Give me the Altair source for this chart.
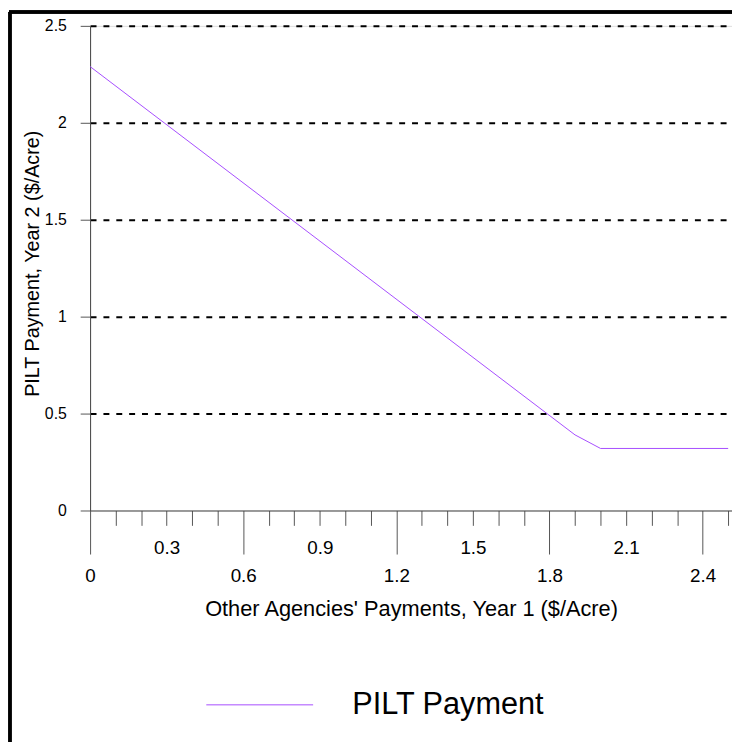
import altair as alt
import pandas as pd

# ---- data ----
x_other = [0.0, 1.9, 2.0, 2.5]          # Other Agencies' Payments, Year 1 ($/Acre)
y_pilt = [2.29, 0.39, 0.32, 0.32]       # PILT Payment, Year 2 ($/Acre)
series_name = "PILT Payment"
x_ticks = [0.0, 0.1, 0.2, 0.3, 0.4, 0.5, 0.6, 0.7, 0.8, 0.9, 1.0, 1.1, 1.2,
           1.3, 1.4, 1.5, 1.6, 1.7, 1.8, 1.9, 2.0, 2.1, 2.2, 2.3, 2.4, 2.5]
y_ticks = [0.0, 0.5, 1.0, 1.5, 2.0, 2.5]
x_title = "Other Agencies' Payments, Year 1 ($/Acre)"
y_title = "PILT Payment, Year 2 ($/Acre)"
line_color = "#a64dff"

df = pd.DataFrame({"x": x_other, "y": y_pilt, "series": [series_name] * len(x_other)})

FONT = "Liberation Sans"

x_axis = alt.Axis(
    values=x_ticks,
    format="~g",
    title=x_title,
    titleFont=FONT, titleFontSize=22, titleFontWeight="normal", titleColor="black",
    titleBaseline="middle", titleY=99,
    labelExpr="round(datum.value*10) % 3 == 0 ? datum.label : ''",
    labelFont=FONT, labelFontSize=19, labelColor="black",
    labelPadding=13, labelFlush=False, labelOverlap=False,
    tickSize={"condition": {"test": "round(datum.value*10) % 6 == 0", "value": 44}, "value": 15},
    tickColor="#555", domainColor="#444", domainWidth=1,
    grid=False,
)

y_axis = alt.Axis(
    values=y_ticks,
    format="~g",
    title=y_title,
    titleFont=FONT, titleFontSize=20, titleFontWeight="normal", titleColor="black",
    titleAngle=270, titleBaseline="middle", titleAlign="center", titleX=-58, titleY=240,
    labelFont=FONT, labelFontSize=16, labelColor="black", labelPadding=14,
    labelFlush=False,
    tickSize=10, tickColor="#555", domainColor="#444", domainWidth=1,
    grid=True, gridColor="black", gridWidth=2, gridDash=[6, 7],
    gridOpacity={"condition": {"test": "datum.value == 0", "value": 0}, "value": 1},
)

line = alt.Chart(df).mark_line(strokeWidth=1, clip=False).encode(
    x=alt.X("x:Q", scale=alt.Scale(domain=[0, 2.515], nice=False, zero=False), axis=x_axis),
    y=alt.Y("y:Q", scale=alt.Scale(domain=[0, 2.5], nice=False), axis=y_axis),
    color=alt.Color(
        "series:N",
        scale=alt.Scale(range=[line_color]),
        legend=alt.Legend(
            title=None, orient="none", legendX=117, legendY=632,
            symbolType="stroke", symbolSize=11664, symbolStrokeWidth=1,
            labelFont=FONT, labelFontSize=31, labelColor="black",
            labelOffset=39, labelLimit=600,
        ),
    ),
)

frame_left = alt.Chart(df).mark_rule(color="black", strokeWidth=3, clip=False).encode(
    x=alt.value(-81), y=alt.value(-14), y2=alt.value(800)
)
frame_top = alt.Chart(df).mark_rule(color="black", strokeWidth=3, clip=False).encode(
    x=alt.value(-82), x2=alt.value(700), y=alt.value(-14)
)

chart = alt.layer(frame_left, frame_top, line).properties(
    width=649, height=490,
    autosize=alt.AutoSizeParams(type="none"),
    padding={"left": 83, "top": 14, "right": 0, "bottom": 230},
).configure_view(stroke=None).configure(background="white")

chart.save("out.html", embed_options={"renderer": "svg", "actions": False})
